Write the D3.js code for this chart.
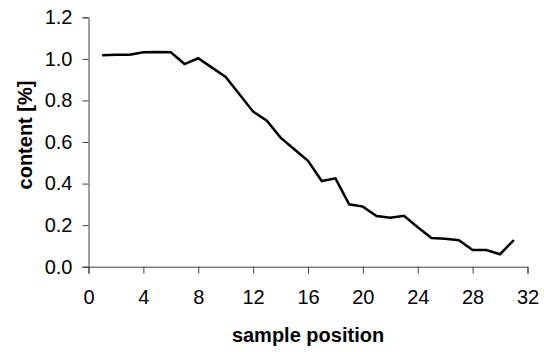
<!DOCTYPE html>
<html>
<head>
<meta charset="utf-8">
<script src="https://cdn.jsdelivr.net/npm/d3@7"></script>
<style>
  html, body { margin: 0; padding: 0; background: #fff; }
  svg { display: block; }
  text { font-family: "Liberation Sans", Arial, sans-serif; fill: #000; }
</style>
</head>
<body>
<svg id="chart" width="544" height="352"></svg>
<script>
// Sample positions along the profile and the measured content at each
const positions = [1, 2, 3, 4, 5, 6, 7, 8, 9, 10, 11, 12, 13, 14, 15, 16,
                   17, 18, 19, 20, 21, 22, 23, 24, 25, 26, 27, 28, 29, 30, 31];
const content = [1.017, 1.020, 1.020, 1.032, 1.033, 1.032, 0.975, 1.003, 0.958, 0.913,
                 0.830, 0.746, 0.703, 0.621, 0.565, 0.509, 0.412, 0.425, 0.300, 0.289,
                 0.244, 0.236, 0.245, 0.190, 0.138, 0.134, 0.127, 0.080, 0.080, 0.060, 0.128];
const xTicks = [0, 4, 8, 12, 16, 20, 24, 28, 32];
const yTicks = [0.0, 0.2, 0.4, 0.6, 0.8, 1.0, 1.2];
const xTitle = "sample position";
const yTitle = "content [%]";

const svg = d3.select("#chart");
const plot = { left: 88.5, right: 527.5, top: 17.3, bottom: 266.7 };

const x = d3.scaleLinear().domain([0, 32]).range([plot.left, plot.right]);
const y = d3.scaleLinear().domain([0, 1.2]).range([plot.bottom, plot.top]);

const axisColor = "#404040";

// x axis
const gx = svg.append("g")
  .attr("transform", `translate(0,${plot.bottom})`)
  .call(d3.axisBottom(x).tickValues(xTicks).tickSize(7).tickPadding(16)
        .tickFormat(d3.format("d")));
// y axis
const gy = svg.append("g")
  .attr("transform", `translate(${plot.left},0)`)
  .call(d3.axisLeft(y).tickValues(yTicks).tickSize(6).tickPadding(10)
        .tickFormat(d3.format(".1f")));

[gx, gy].forEach(g => {
  g.select(".domain").attr("stroke", axisColor).attr("stroke-width", 1);
  g.selectAll(".tick line").attr("stroke", axisColor).attr("stroke-width", 1);
  g.selectAll(".tick text")
    .attr("font-size", 20)
    .attr("font-family", "'Liberation Sans', Arial, sans-serif")
    .attr("fill", "#000");
});
gx.selectAll(".tick text").attr("y", 23).attr("dy", "0.71em");

// data line
const line = d3.line()
  .x((d, i) => x(positions[i]))
  .y(d => y(d));

svg.append("path")
  .datum(content)
  .attr("fill", "none")
  .attr("stroke", "#000")
  .attr("stroke-width", 2.5)
  .attr("stroke-linejoin", "miter")
  .attr("d", line);

// axis titles
svg.append("text")
  .attr("x", (plot.left + plot.right) / 2)
  .attr("y", 342)
  .attr("text-anchor", "middle")
  .attr("font-size", 20)
  .attr("font-weight", "bold")
  .text(xTitle);

svg.append("text")
  .attr("transform", `translate(32,135) rotate(-90)`)
  .attr("text-anchor", "middle")
  .attr("font-size", 20)
  .attr("font-weight", "bold")
  .text(yTitle);
</script>
</body>
</html>
